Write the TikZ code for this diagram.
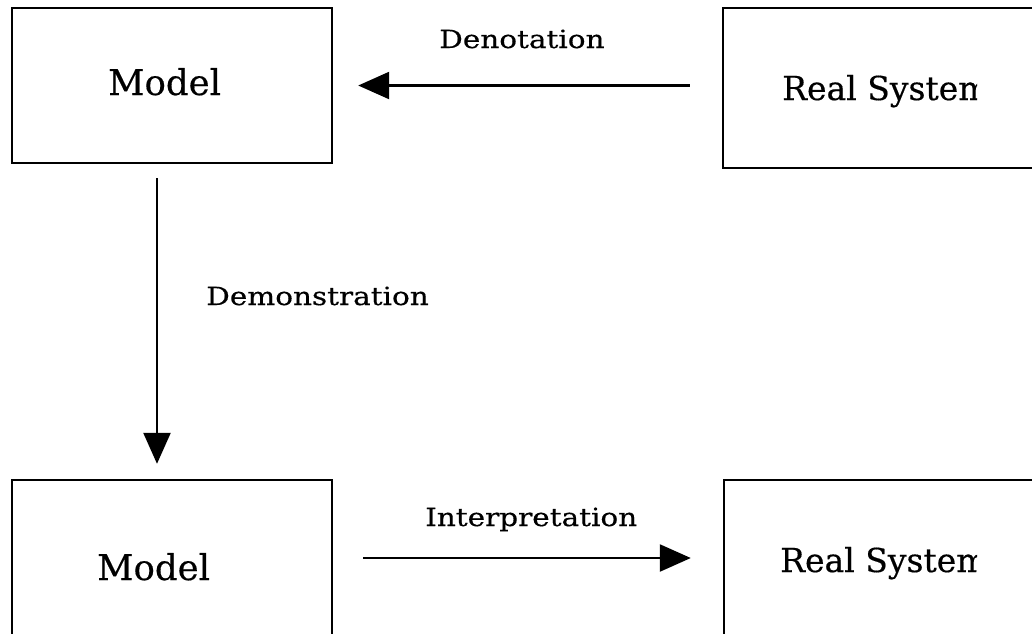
\documentclass[tikz,border=0pt]{standalone}
\usepackage{fontspec}
\setmainfont[FakeBold=0.4]{DejaVu Serif}
\newfontfamily\labfont[FakeStretch=1.18,FakeBold=0.4]{DejaVu Serif}
\usetikzlibrary{arrows.meta}
\tikzset{
  box/.style={draw, line width=2.4pt, minimum width=#1, minimum height=156pt, inner sep=0pt},
  boxtext/.style={anchor=base west, inner sep=0pt, font=\fontsize{35.5}{40}\selectfont},
  systext/.style={anchor=base west, inner sep=0pt, font=\fontsize{33}{38}\selectfont},
  labtext/.style={anchor=base west, inner sep=0pt, font=\labfont\fontsize{25}{28}\selectfont},
  arr/.style={line width=2.4pt, -{Triangle[length=31pt,width=27pt]}}
}
\begin{document}
\begin{tikzpicture}[x=1pt,y=-1pt]
\clip (0,0) rectangle (1032,633);
\fill[white] (0,0) rectangle (1032,633);
% boxes
\node[box=320pt, minimum height=155pt] (m1) at (172,85.5) {};
\node[box=318pt, minimum height=160pt] (rs1) at (882,88) {};
\node[box=320pt] (m2) at (172,558) {};
\node[box=318pt] (rs2) at (883,558) {};
% texts
\node[boxtext] (t1) at (108,95) {Model};
\node[boxtext] (t3) at (97,580) {Model};
\begin{scope}
\clip (730,0) rectangle (977,633);
\node[systext] (t2) at (782,100) {Real System};
\node[systext] (t4) at (780,572) {Real System};
\end{scope}
% connectors
\draw[arr, shorten <=32pt, shorten >=25pt] (rs1.west |- m1.east) -- (m1.east);
\draw[arr, shorten <=14pt, shorten >=15pt] ([xshift=-15pt]m1.south) -- ([xshift=-15pt]m2.north);
\draw[arr, shorten <=30pt, shorten >=32pt] (m2.east) -- (rs2.west);
% labels
\node[labtext] (l1) at (439,48) {Denotation};
\node[labtext] (l2) at (206,305) {Demonstration};
\node[labtext] (l3) at (425,526) {Interpretation};
\end{tikzpicture}
\end{document}
